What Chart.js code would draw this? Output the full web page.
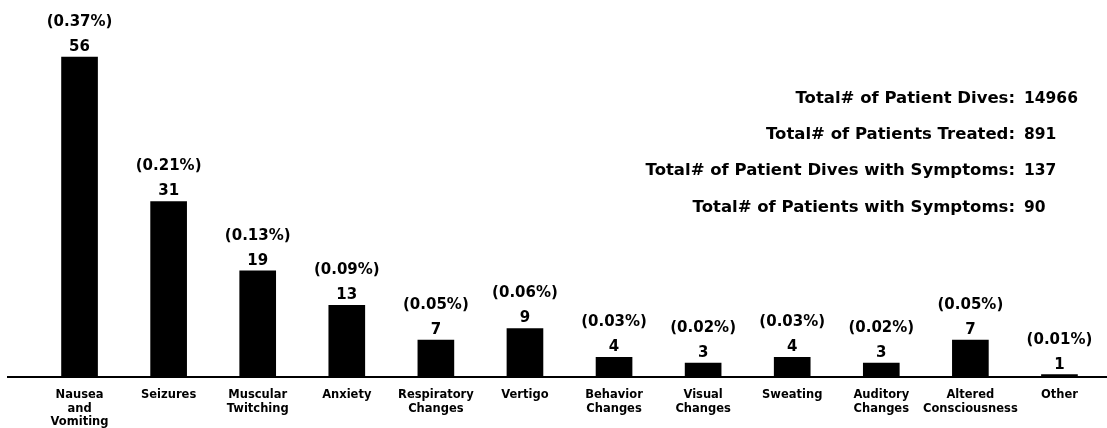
<!DOCTYPE html>
<html>
<head>
<meta charset="utf-8">
<script src="https://cdn.jsdelivr.net/npm/chart.js@4"></script>
<style>
  html, body { margin: 0; padding: 0; background: #fff; }
  #wrap { width: 1107px; height: 428px; }
</style>
</head>
<body>
<div id="wrap"><canvas id="symptomChart" width="1107" height="428"></canvas></div>
<script>
// categories (multi-line tick labels)
const categories = [
    ['Nausea', 'and', 'Vomiting'],
    'Seizures',
    ['Muscular', 'Twitching'],
    'Anxiety',
    ['Respiratory', 'Changes'],
    'Vertigo',
    ['Behavior', 'Changes'],
    ['Visual', 'Changes'],
    'Sweating',
    ['Auditory', 'Changes'],
    ['Altered', 'Consciousness'],
    'Other'
];
// number of patient dives with each symptom
const counts = [56, 31, 19, 13, 7, 9, 4, 3, 4, 3, 7, 1];
// percentage of all patient dives, as printed above each bar
const percents = ['0.37', '0.21', '0.13', '0.09', '0.05', '0.06', '0.03', '0.02', '0.03', '0.02', '0.05', '0.01'];
// summary block on the right
const summaryLabels = [
    'Total# of Patient Dives:',
    'Total# of Patients Treated:',
    'Total# of Patient Dives with Symptoms:',
    'Total# of Patients with Symptoms:'
];
const summaryValues = ['14966', '891', '137', '90'];

const FONT = "'DejaVu Sans', 'Liberation Sans', sans-serif";
Chart.defaults.font.family = FONT;
Chart.defaults.color = '#000';

// draws the base line, the value labels and the summary text
const annotatePlugin = {
    id: 'annotate',
    afterDatasetsDraw(chart) {
        const c = chart.ctx;
        const area = chart.chartArea;
        c.save();

        // base line runs nearly the full width
        c.strokeStyle = '#000';
        c.lineWidth = 2;
        c.beginPath();
        c.moveTo(7, area.bottom);
        c.lineTo(chart.width, area.bottom);
        c.stroke();

        // count and percentage over each bar
        c.fillStyle = '#000';
        c.textAlign = 'center';
        c.textBaseline = 'alphabetic';
        c.font = 'bold 15px ' + FONT;
        chart.getDatasetMeta(0).data.forEach((bar, i) => {
            c.fillText(String(counts[i]), bar.x, bar.y - 6);
            c.fillText('(' + percents[i] + '%)', bar.x, bar.y - 31);
        });

        // summary lines, aligned on the colon
        const colonX = 1015;
        const valueX = 1024;
        const lineY = [103, 139, 175, 212];
        summaryLabels.forEach((lbl, i) => {
            c.font = 'bold 16.5px ' + FONT;
            c.textAlign = 'right';
            c.fillText(lbl, colonX, lineY[i]);
            c.font = 'bold 15.5px ' + FONT;
            c.textAlign = 'left';
            c.fillText(summaryValues[i], valueX, lineY[i]);
        });
        c.restore();
    }
};

const ctx = document.getElementById('symptomChart').getContext('2d');
new Chart(ctx, {
    type: 'bar',
    data: {
        labels: categories,
        datasets: [{
            data: counts,
            backgroundColor: '#000',
            borderWidth: 0,
            barThickness: 36
        }]
    },
    options: {
        responsive: false,
        animation: false,
        events: [],
        layout: {
            padding: { top: 34, left: 35, right: 3, bottom: 0 }
        },
        plugins: {
            legend: { display: false },
            tooltip: { enabled: false }
        },
        scales: {
            x: {
                grid: { display: false },
                border: { display: false },
                ticks: {
                    autoSkip: false,
                    maxRotation: 0,
                    padding: 3,
                    font: { size: 11.5, weight: 'bold', lineHeight: 1.2 }
                },
                afterFit(scale) {
                    scale.height = 51; // keeps the base line at y=377
                }
            },
            y: {
                display: false,
                min: 0.6,
                max: 60
            }
        }
    },
    plugins: [annotatePlugin]
});
</script>
</body>
</html>
